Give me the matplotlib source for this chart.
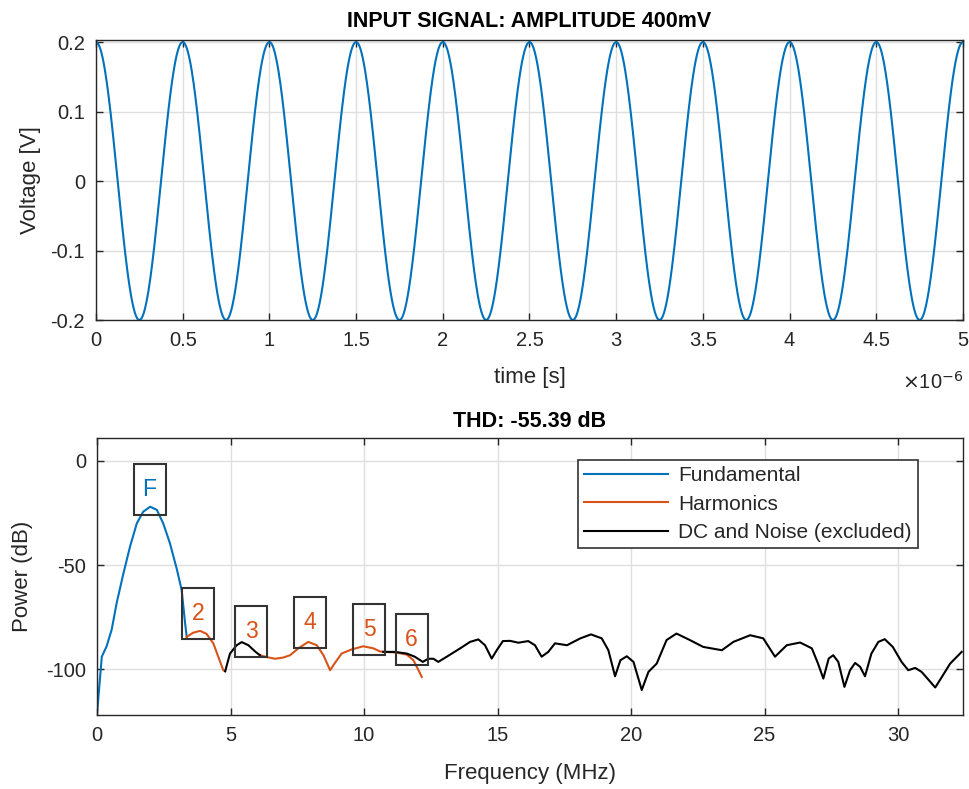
import numpy as np
import matplotlib
matplotlib.use("Agg")
import matplotlib.pyplot as plt
from matplotlib.patches import Rectangle
from matplotlib.ticker import FuncFormatter

# ---------------- data ----------------
# input signal: cosine, 0.2 V peak, 2 MHz, over 5 us
signal_amplitude = 0.2          # V
signal_frequency = 2e6          # Hz
signal_duration = 5e-6          # s

# spectrum (MHz, dB)
fund_f = [0.0, 0.18, 0.36, 0.55, 0.74, 0.99, 1.24, 1.49, 1.73, 1.99, 2.24, 2.48,
          2.73, 2.99, 3.17, 3.30, 3.36]
fund_db = [-121.5, -94, -89, -81, -68, -54, -41, -30, -24.4, -22, -23.5, -30,
           -39.5, -52, -62, -78, -84.5]

harm_a_f = [3.36, 3.6, 3.86, 4.1, 4.36, 4.54, 4.73, 4.8]
harm_a_db = [-84.5, -82.5, -81.6, -83, -87.7, -94, -100.5, -101]

harm_b_f = [6.1, 6.36, 6.67, 6.98, 7.23, 7.54, 7.91, 8.23, 8.48, 8.73, 8.91, 9.16,
            9.54, 9.97, 10.35, 10.6, 10.79, 11.2, 11.6, 11.85, 12.04, 12.16]
harm_b_db = [-93.3, -94.2, -95, -94.4, -93.3, -90, -86.9, -88.5, -93.3, -100.5, -97,
             -92.5, -90.5, -89, -90, -91.5, -91.7, -92, -93, -95.7, -100.5, -103.7]

noise_a_f = [4.8, 4.98, 5.23, 5.42, 5.67, 5.92, 6.1]
noise_a_db = [-101, -92.5, -88.5, -87, -88.5, -91.5, -93.3]

noise_b_f = [10.72, 11.16, 11.6, 11.9, 12.2, 12.4, 12.6, 12.78, 13.1, 13.6, 13.97,
             14.28, 14.53, 14.78, 14.97, 15.2, 15.47, 15.78, 16.15, 16.4, 16.65,
             16.9, 17.15, 17.6, 18.1, 18.5, 18.9, 19.15, 19.4, 19.6, 19.84, 20.09,
             20.4, 20.65, 20.96, 21.33, 21.7, 22.2, 22.7, 23.4, 23.83, 24.46, 24.95,
             25.39, 25.83, 26.33, 26.77, 27.0, 27.2, 27.4, 27.57, 27.76, 27.99,
             28.2, 28.39, 28.58, 28.76, 29.0, 29.26, 29.5, 29.8, 30.13, 30.38,
             30.64, 30.88, 31.2, 31.39, 31.64, 31.95, 32.38]
noise_b_db = [-91.7, -91.7, -92.5, -94, -96.5, -95, -95, -96.5, -94, -90, -86.9,
              -85.7, -88.5, -94.9, -90.9, -86.5, -86.4, -87.3, -86.5, -88.5, -94,
              -91.7, -87.6, -88.5, -85.2, -83.3, -85.2, -90.9, -103.4, -95.7, -93.8,
              -96.5, -110, -101.3, -97.3, -86, -82.9, -86, -89.3, -90.9, -86.9,
              -83.7, -85.2, -94, -88.5, -87.2, -90, -97.3, -104.5, -94.9, -93.3,
              -96.5, -108.5, -100.5, -97, -98.9, -103.4, -92.5, -86.9, -85.6, -89.3,
              -96.5, -100.5, -99.4, -101.3, -106, -108.8, -103.7, -97.3, -91.7]

# harmonic label annotations
label_text = ["F", "2", "3", "4", "5", "6"]
label_freq = [1.97, 3.78, 5.77, 7.98, 10.2, 11.78]     # MHz (box centre)
label_base = [-26, -85.6, -94, -90, -93, -98]          # dB (box bottom)

thd_value = -55.39

# ---------------- style ----------------
BLUE = "#0072BD"
ORANGE = "#D95319"
TXT = "#262626"
GRID = "#dfdfdf"
plt.rcParams["font.family"] = ["Liberation Sans", "DejaVu Sans"]
plt.rcParams["axes.unicode_minus"] = False

fig = plt.figure(figsize=(9.69, 7.89), dpi=100)
ax1 = fig.add_axes([96 / 969, 1 - 320 / 789, 867 / 969, 280 / 789])
ax2 = fig.add_axes([97 / 969, 1 - 715 / 789, 866 / 969, 277 / 789])


def style(ax):
    ax.grid(True, color=GRID, lw=1.0)
    ax.set_axisbelow(True)
    ax.tick_params(direction="in", length=5, width=1, colors=TXT,
                   labelsize=14.5, top=True, right=True, pad=8)
    for s in ax.spines.values():
        s.set_color(TXT)
        s.set_linewidth(1.0)


# ---- top: input signal ----
t = np.linspace(0, signal_duration, 2001)
v = signal_amplitude * np.cos(2 * np.pi * signal_frequency * t)
ax1.plot(t, v, color=BLUE, lw=1.5)
ax1.set_xlim(0, signal_duration)
ax1.set_ylim(-0.2, 0.203)
ax1.set_xticks(np.arange(0, 5.01, 0.5) * 1e-6)
ax1.set_yticks([-0.2, -0.1, 0, 0.1, 0.2])
ax1.xaxis.set_major_formatter(FuncFormatter(lambda x, p: f"{x * 1e6:g}"))
ax1.yaxis.set_major_formatter(FuncFormatter(lambda y, p: f"{y:g}"))
style(ax1)
ax1.set_title("INPUT SIGNAL: AMPLITUDE 400mV", fontsize=15.5, fontweight="bold",
              color="black", pad=9)
ax1.set_xlabel("time [s]", fontsize=16, color=TXT, labelpad=12)
ax1.set_ylabel("Voltage [V]", fontsize=16, color=TXT, labelpad=7)
ax1.text(1.0, -0.22, r"$\times$10$^{-6}$", transform=ax1.transAxes,
         ha="right", va="center", fontsize=14.5, color=TXT)

# ---- bottom: spectrum ----
ax2.plot(fund_f, fund_db, color=BLUE, lw=1.5, label="Fundamental")
ax2.plot(harm_a_f, harm_a_db, color=ORANGE, lw=1.5, label="Harmonics")
ax2.plot(harm_b_f, harm_b_db, color=ORANGE, lw=1.5)
ax2.plot(noise_a_f, noise_a_db, color="black", lw=1.5,
         label="DC and Noise (excluded)")
ax2.plot(noise_b_f, noise_b_db, color="black", lw=1.5)

box_w, box_h = 1.2, 24.5
for txt, f, b in zip(label_text, label_freq, label_base):
    c = BLUE if txt == "F" else ORANGE
    ax2.add_patch(Rectangle((f - box_w / 2, b), box_w, box_h, fill=False,
                            edgecolor="#333333", lw=1.5, zorder=4))
    ax2.text(f, b + box_h / 2, txt, ha="center", va="center", color=c,
             fontsize=16.5, zorder=5)

ax2.set_xlim(0, 32.43)
ax2.set_ylim(-122, 11)
ax2.set_xticks([0, 5, 10, 15, 20, 25, 30])
ax2.set_yticks([-100, -50, 0])
style(ax2)
ax2.set_title(f"THD: {thd_value:.2f} dB", fontsize=15.5, fontweight="bold",
              color="black", pad=8)
ax2.set_xlabel("Frequency (MHz)", fontsize=16, color=TXT, labelpad=13)
ax2.set_ylabel("Power (dB)", fontsize=16, color=TXT, labelpad=9)
leg = ax2.legend(loc="upper right", bbox_to_anchor=(0.948, 0.92), fontsize=15,
                 handlelength=4.0, frameon=True, fancybox=False,
                 edgecolor="#333333", framealpha=1, borderpad=0.3,
                 labelspacing=0.45, handletextpad=0.5, borderaxespad=0)
leg.get_frame().set_linewidth(1.2)
for tx in leg.get_texts():
    tx.set_color(TXT)

fig.savefig("out.png", dpi=100)
